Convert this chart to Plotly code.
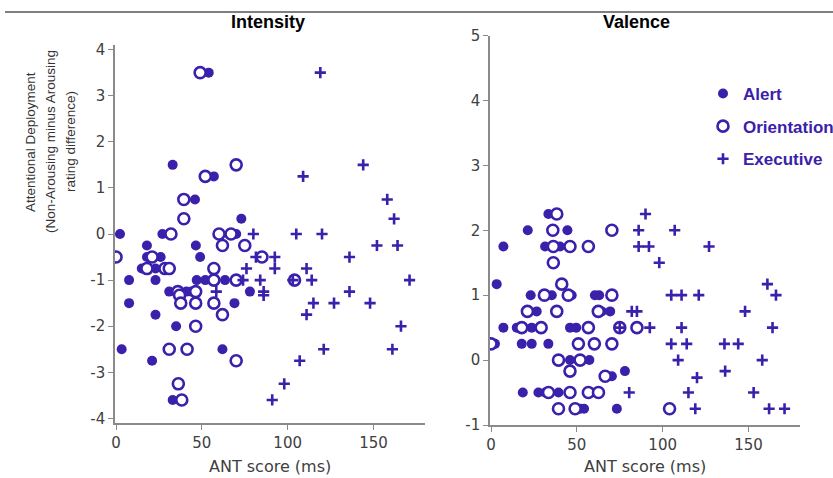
import plotly.graph_objects as go

W, H = 833, 478
COLOR = "#3b20ab"
AXIS = "#8a8a8a"
TICKC = "#404040"

# ---------------- Intensity panel ----------------
int_alert_x = [54, 33, 57, 46, 73, 2.3, 27, 70, 18, 46.5, 18, 26, 49, 15, 23, 7.6, 23, 47, 52, 63.5,
               31, 41, 44, 78, 7.6, 38, 69, 23, 35, 3.3, 62, 21, 33]
int_alert_y = [3.5, 1.5, 1.25, 0.75, 0.33, 0, 0, 0, -0.25, -0.25, -0.5, -0.5, -0.5, -0.75, -0.75, -1, -1, -1, -1, -1,
               -1.25, -1.25, -1.25, -1.25, -1.5, -1.5, -1.5, -1.75, -2, -2.5, -2.5, -2.75, -3.6]

int_orient_x = [49, 70, 52, 39.5, 39.5, 32, 60, 67, 62, 75, 0, 21, 85, 18, 28.5, 31, 57, 57, 70, 104,
                36, 46.4, 37, 37.7, 46.4, 57, 62, 46.4, 31, 41.4, 70, 36.3, 38.3]
int_orient_y = [3.5, 1.5, 1.25, 0.75, 0.33, 0, 0, 0, -0.25, -0.25, -0.5, -0.5, -0.5, -0.75, -0.75, -0.75, -0.75, -1, -1, -1,
                -1.25, -1.25, -1.33, -1.5, -1.5, -1.5, -1.75, -2, -2.5, -2.5, -2.75, -3.25, -3.6]

int_exec_x = [119, 144, 109, 158, 162, 80, 105, 120, 152, 164, 81.5, 92.5, 136, 76, 92.5, 111, 74, 84, 103, 114, 171,
              58.4, 86, 136, 86, 115, 127, 148, 111, 166, 121, 161, 107, 98, 91]
int_exec_y = [3.5, 1.5, 1.25, 0.75, 0.33, 0, 0, 0, -0.25, -0.25, -0.5, -0.5, -0.5, -0.75, -0.75, -0.75, -1, -1, -1, -1, -1,
              -1.25, -1.25, -1.25, -1.33, -1.5, -1.5, -1.5, -1.75, -2, -2.5, -2.5, -2.75, -3.25, -3.6]

# ---------------- Valence panel ----------------
val_alert_x = [33.4, 21.4, 44.5, 7.2, 31.5, 40.2, 3.3, 23.1, 35.4, 47, 60.5, 63, 26.6, 64.5, 69.4,
               7.2, 15, 23.7, 46, 49.6, 2.3, 0.8, 17.9, 23.7, 33.4, 46, 57.3, 70.4, 78,
               18.5, 27.6, 31.5, 39.3, 58.7, 51.9, 54.2, 73.3]
val_alert_y = [2.25, 2.0, 2.0, 1.75, 1.75, 1.75, 1.17, 1.0, 1.0, 1.0, 1.0, 1.0, 0.75, 0.75, 0.75,
               0.5, 0.5, 0.5, 0.5, 0.5, 0.25, 0.25, 0.25, 0.25, 0.25, 0.0, 0.0, -0.25, -0.17,
               -0.5, -0.5, -0.5, -0.5, -0.5, -0.75, -0.75, -0.75]

val_orient_x = [38.3, 36, 70.4, 36.3, 46, 56.7, 36.3, 41.2, 31.1, 45, 70.4, 21.2, 38.3, 62.5,
                17.9, 29.2, 56.7, 75, 85, 0, 50.9, 60.2, 70.4, 39.3, 51.9, 46, 66.5,
                33.5, 46, 56.7, 62.6, 39.3, 49, 104]
val_orient_y = [2.25, 2.0, 2.0, 1.75, 1.75, 1.75, 1.5, 1.17, 1.0, 1.0, 1.0, 0.75, 0.75, 0.75,
                0.5, 0.5, 0.5, 0.5, 0.5, 0.25, 0.25, 0.25, 0.25, 0.0, 0.0, -0.17, -0.25,
                -0.5, -0.5, -0.5, -0.5, -0.75, -0.75, -0.75]

val_exec_x = [90, 86, 107, 86, 92, 127, 98, 161, 105, 111, 121, 166, 82, 85, 148, 75, 92.5, 111, 164,
              105, 114, 136, 144, 109, 158, 136.4, 120, 80.5, 115, 153, 119, 162, 171]
val_exec_y = [2.25, 2.0, 2.0, 1.75, 1.75, 1.75, 1.5, 1.17, 1.0, 1.0, 1.0, 1.0, 0.75, 0.75, 0.75, 0.5, 0.5, 0.5, 0.5,
              0.25, 0.25, 0.25, 0.25, 0.0, 0.0, -0.17, -0.27, -0.5, -0.5, -0.5, -0.75, -0.75, -0.75]

x_ticks = [0, 50, 100, 150]
x_ticktext = ["0", "50", "100", "150"]
int_yticks = [-4, -3, -2, -1, 0, 1, 2, 3, 4]
int_yticktext = ["-4", "-3", "-2", "-1", "0", "1", "2", "3", "4"]
val_yticks = [-1, 0, 1, 2, 3, 4, 5]
val_yticktext = ["-1", "0", "1", "2", "3", "4", "5"]

series_names = ["Alert", "Orientation", "Executive"]
panel_titles = ["Intensity", "Valence"]
x_title = "ANT score (ms)"
y_title_lines = ["Attentional Deployment", "(Non-Arousing minus Arousing", "rating difference)"]

alert_marker = dict(symbol="circle", size=10, color=COLOR, line=dict(width=0))
orient_marker = dict(symbol="circle", size=11, color="white", line=dict(width=2.6, color=COLOR))
exec_marker = dict(symbol="cross-thin", size=8, color=COLOR, line=dict(width=2.6, color=COLOR))

fig = go.Figure()
panels = [
    ("x", "y", int_alert_x, int_alert_y, int_orient_x, int_orient_y, int_exec_x, int_exec_y, False),
    ("x2", "y2", val_alert_x, val_alert_y, val_orient_x, val_orient_y, val_exec_x, val_exec_y, True),
]
for xa, ya, ax_, ay_, ox, oy, ex, ey, show in panels:
    fig.add_trace(go.Scatter(x=ax_, y=ay_, mode="markers", marker=alert_marker, name=series_names[0],
                             xaxis=xa, yaxis=ya, showlegend=show, legendgroup="a"))
    fig.add_trace(go.Scatter(x=ox, y=oy, mode="markers", marker=orient_marker, name=series_names[1],
                             xaxis=xa, yaxis=ya, showlegend=show, legendgroup="o"))
    fig.add_trace(go.Scatter(x=ex, y=ey, mode="markers", marker=exec_marker, name=series_names[2],
                             xaxis=xa, yaxis=ya, showlegend=show, legendgroup="e"))

def px_x(p):
    return p / W

def px_y(p):
    return 1 - p / H

tickfont = dict(family="DejaVu Sans, Verdana, sans-serif", size=15, color=TICKC)
common_axis = dict(showline=True, linecolor=AXIS, linewidth=1.5, ticks="outside", ticklen=5,
                   tickcolor=AXIS, tickwidth=1.2, showgrid=False, zeroline=False, tickfont=tickfont,
                   mirror=False)

fig.update_layout(
    width=W, height=H,
    margin=dict(l=0, r=0, t=0, b=0, autoexpand=False),
    paper_bgcolor="white", plot_bgcolor="white",
    xaxis=dict(domain=[px_x(115), px_x(425)], range=[-0.6, 180], anchor="y",
               tickvals=x_ticks, ticktext=x_ticktext, **common_axis),
    yaxis=dict(domain=[px_y(423), px_y(45)], range=[-4.1, 4.1], anchor="x",
               tickvals=int_yticks, ticktext=int_yticktext, **common_axis),
    xaxis2=dict(domain=[px_x(490), px_x(800)], range=[-0.6, 180], anchor="y2",
                tickvals=x_ticks, ticktext=x_ticktext, **common_axis),
    yaxis2=dict(domain=[px_y(425), px_y(35.5)], range=[-1, 5], anchor="x2",
                tickvals=val_yticks, ticktext=val_yticktext, **common_axis),
    legend=dict(x=px_x(703), y=px_y(76), xanchor="left", yanchor="top",
                font=dict(family="Liberation Sans, Arial, sans-serif", size=17, color=COLOR, weight="bold"),
                bgcolor="rgba(0,0,0,0)", tracegroupgap=7.5, itemwidth=30),
    showlegend=True,
)

annotations = []
for title, cx in zip(panel_titles, [268, 636]):
    annotations.append(dict(text="<b>%s</b>" % title, x=px_x(cx), y=px_y(22), xref="paper", yref="paper",
                            showarrow=False, xanchor="center", yanchor="middle",
                            font=dict(family="Liberation Sans, Arial, sans-serif", size=18, color="black")))
for cx in [270, 645]:
    annotations.append(dict(text=x_title, x=px_x(cx), y=px_y(466), xref="paper", yref="paper",
                            showarrow=False, xanchor="center", yanchor="middle",
                            font=dict(family="DejaVu Sans, Verdana, sans-serif", size=16, color=TICKC)))
for line, lx in zip(y_title_lines, [31, 51, 71]):
    annotations.append(dict(text=line, x=px_x(lx), y=px_y(142), xref="paper", yref="paper",
                            showarrow=False, xanchor="center", yanchor="middle", textangle=-90,
                            font=dict(family="Liberation Sans, Arial, sans-serif",
                                      size=13.5, color="#333333")))
fig.update_layout(annotations=annotations)

fig.add_shape(type="line", xref="paper", yref="paper", x0=px_x(5), x1=1, y0=px_y(12), y1=px_y(12),
              line=dict(color="#555555", width=1.5))

fig.write_html("out.html")
